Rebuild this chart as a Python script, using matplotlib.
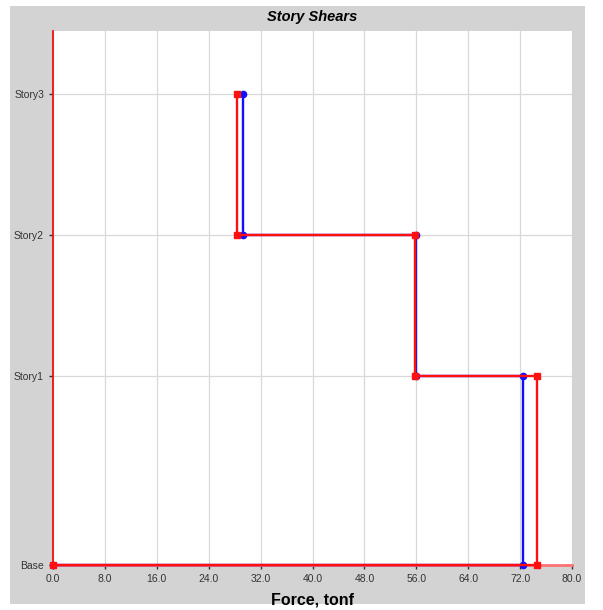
import numpy as np
import matplotlib.pyplot as plt
from matplotlib.patches import Rectangle

plt.rcParams['font.family'] = ['Liberation Sans', 'DejaVu Sans']

# story data
levels = ['Base', 'Story1', 'Story2', 'Story3']
elevations = [0, 4, 7, 10]
shear_blue = [72.4, 55.9, 29.3]   # Story1, Story2, Story3
shear_red = [74.6, 55.8, 28.4]
x_ticks = [0, 8, 16, 24, 32, 40, 48, 56, 64, 72, 80]


def step_path(shears):
    xs = [0.0]
    ys = [elevations[0]]
    for i, v in enumerate(shears):
        xs += [v, v]
        ys += [elevations[i], elevations[i + 1]]
    return xs, ys


fig = plt.figure(figsize=(6.03, 6.10), dpi=100, facecolor='white')
fig.patches.append(Rectangle((10 / 603, 6 / 610), 575 / 603, 598 / 610,
                             transform=fig.transFigure, facecolor='#d3d3d3',
                             edgecolor='none', zorder=-10))
ax = fig.add_axes([53 / 603, 45 / 610, 519 / 603, 534 / 610])
ax.set_facecolor('white')

bx, by = step_path(shear_blue)
rx, ry = step_path(shear_red)
ax.plot(bx, by, color='#1010ff', lw=1.7, marker='o', ms=4.5, clip_on=False, zorder=3)
ax.plot(rx, ry, color='#ff1010', lw=1.7, marker='s', ms=4.5, clip_on=False, zorder=4)

ax.set_xlim(0, 80)
ax.set_ylim(0, 11.33)
ax.set_xticks(x_ticks)
ax.set_xticklabels(['%.1f' % v for v in x_ticks])
ax.set_yticks(elevations)
ax.set_yticklabels(levels)
ax.tick_params(labelsize=7.5, colors='#333333', length=3, width=1)
ax.grid(True, color='#d8d8d8', lw=0.9)
ax.set_axisbelow(True)

for s in ['top', 'right']:
    ax.spines[s].set_visible(False)
ax.spines['left'].set_color('#ee1111')
ax.spines['left'].set_linewidth(1.3)
ax.spines['bottom'].set_color('#ff7070')
ax.spines['bottom'].set_linewidth(2)

ax.set_title('Story Shears', fontsize=10.5, fontweight='bold', style='italic', pad=7)
ax.set_xlabel('Force, tonf', fontsize=11.5, fontweight='bold', labelpad=6)

fig.savefig('out.png', dpi=100, facecolor='white')
